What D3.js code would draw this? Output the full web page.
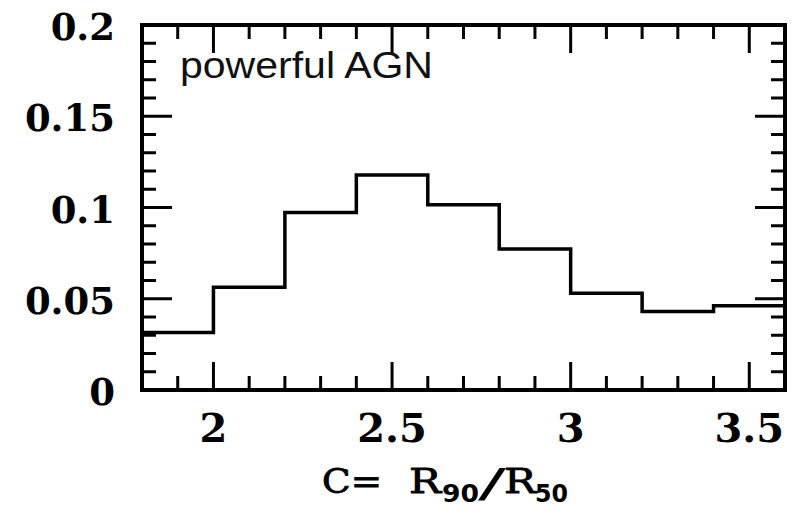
<!DOCTYPE html>
<html>
<head>
<meta charset="utf-8">
<script src="https://cdn.jsdelivr.net/npm/d3@7"></script>
<style>
  html, body { margin: 0; padding: 0; background: #fff; }
  svg { display: block; }
</style>
</head>
<body>
<svg id="chart" width="793" height="520"></svg>
<script>
// Data: histogram of concentration index C = R90/R50 for powerful AGN
const binEdges = [1.8, 2.0, 2.2, 2.4, 2.6, 2.8, 3.0, 3.2, 3.4, 3.6];
const fractions = [0.0315, 0.0563, 0.0972, 0.1178, 0.1015, 0.0773, 0.0530, 0.0430, 0.0462];
const xMajorTicks = [2, 2.5, 3, 3.5];
const xTickLabels = ["2", "2.5", "3", "3.5"];
const yMajorTicks = [0, 0.05, 0.1, 0.15, 0.2];
const yTickLabels = ["0", "0.05", "0.1", "0.15", "0.2"];
const panelLabel = "powerful AGN";

const svg = d3.select("#chart");
const L = 142, R = 785, T = 25, B = 390;
const x = d3.scaleLinear().domain([1.8, 3.6]).range([L, R]);
const y = d3.scaleLinear().domain([0, 0.2]).range([B, T]);

const xMinor = d3.range(19).map(i => +(1.8 + i * 0.1).toFixed(2)).filter(v => v > 1.8 && v < 3.6 && !xMajorTicks.some(m => Math.abs(m - v) < 1e-6));
const yMinor = d3.range(21).map(i => +(i * 0.01).toFixed(2)).filter(v => v > 0 && v < 0.2 && !yMajorTicks.some(m => Math.abs(m - v) < 1e-6));

const majLen = 28, minLen = 14;
const tickG = svg.append("g").attr("stroke", "#000").attr("stroke-width", 3);

function xTicks(vals, len) {
  vals.forEach(v => {
    tickG.append("line").attr("x1", x(v)).attr("x2", x(v)).attr("y1", B).attr("y2", B - len);
    tickG.append("line").attr("x1", x(v)).attr("x2", x(v)).attr("y1", T).attr("y2", T + len);
  });
}
function yTicks(vals, len) {
  vals.forEach(v => {
    tickG.append("line").attr("y1", y(v)).attr("y2", y(v)).attr("x1", L).attr("x2", L + len);
    tickG.append("line").attr("y1", y(v)).attr("y2", y(v)).attr("x1", R).attr("x2", R - len);
  });
}
xTicks(xMajorTicks, majLen);
xTicks(xMinor, minLen);
yTicks(yMajorTicks.filter(v => v > 0 && v < 0.2), majLen + 2);
yTicks(yMinor, minLen);

// histogram step line
const pts = [];
fractions.forEach((f, i) => {
  pts.push([binEdges[i], f]);
  pts.push([binEdges[i + 1], f]);
});
const line = d3.line().x(d => x(d[0])).y(d => y(d[1]));
svg.append("path").attr("d", line(pts))
  .attr("fill", "none").attr("stroke", "#000").attr("stroke-width", 3.5)
  .attr("stroke-linejoin", "miter");

// frame
svg.append("rect").attr("x", L).attr("y", T).attr("width", R - L).attr("height", B - T)
  .attr("fill", "none").attr("stroke", "#000").attr("stroke-width", 4);

// tick labels
const yl = svg.append("g").attr("font-family", "DejaVu Serif").attr("font-weight", "bold")
  .attr("font-size", 37).attr("text-anchor", "end");
yMajorTicks.forEach((v, i) => {
  yl.append("text").attr("x", 115).attr("y", y(v) + 15).text(yTickLabels[i]);
});
const xl = svg.append("g").attr("font-family", "DejaVu Serif").attr("font-weight", "bold")
  .attr("font-size", 40).attr("text-anchor", "middle");
xMajorTicks.forEach((v, i) => {
  xl.append("text").attr("x", x(v)).attr("y", 442).text(xTickLabels[i]);
});

// panel label
svg.append("text").attr("x", 180).attr("y", 78)
  .attr("font-family", "Liberation Sans").attr("font-size", 37).attr("fill", "#111")
  .attr("textLength", 253).attr("lengthAdjust", "spacingAndGlyphs")
  .text(panelLabel);

// axis title: C= R90/R50
const tg = svg.append("g").attr("font-family", "DejaVu Serif").attr("font-size", 33)
  .attr("fill", "#000").attr("stroke", "#000").attr("stroke-width", 0.8);
tg.append("text").attr("x", 322).attr("y", 493).attr("textLength", 60).attr("lengthAdjust", "spacingAndGlyphs").text("C=");
tg.append("text").attr("x", 409).attr("y", 493).attr("textLength", 32).attr("lengthAdjust", "spacingAndGlyphs").text("R");
tg.append("text").attr("x", 442).attr("y", 502).attr("font-family", "DejaVu Sans").attr("font-weight", "bold").attr("stroke", "none")
  .attr("font-size", 24).attr("textLength", 37).attr("lengthAdjust", "spacingAndGlyphs").text("90");
tg.append("text").attr("x", 478).attr("y", 497).attr("font-size", 40).attr("stroke", "none")
  .attr("textLength", 28).attr("lengthAdjust", "spacingAndGlyphs").text("/");
tg.append("text").attr("x", 504).attr("y", 493).attr("textLength", 32).attr("lengthAdjust", "spacingAndGlyphs").text("R");
tg.append("text").attr("x", 535).attr("y", 502).attr("font-family", "DejaVu Sans").attr("font-weight", "bold").attr("stroke", "none")
  .attr("font-size", 24).attr("textLength", 33).attr("lengthAdjust", "spacingAndGlyphs").text("50");
</script>
</body>
</html>
